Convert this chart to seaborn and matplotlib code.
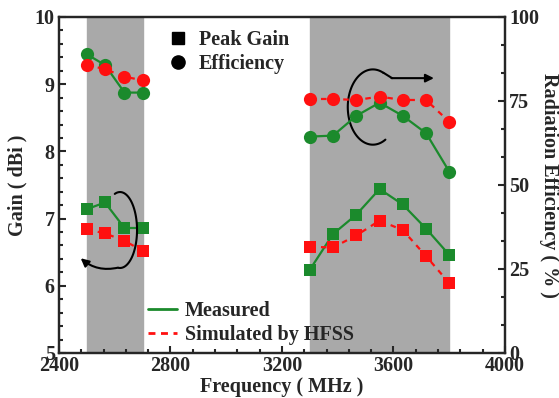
import numpy as np
import pandas as pd
import seaborn as sns
import matplotlib.pyplot as plt
from matplotlib.lines import Line2D
from matplotlib.ticker import MultipleLocator

# frequencies (MHz) for the two bands
freq_low = [2500, 2565, 2635, 2700]
freq_high = [3300, 3383, 3467, 3550, 3633, 3717, 3800]

# peak gain (dBi)
gain_meas_low = [7.14, 7.24, 6.86, 6.86]
gain_sim_low = [6.84, 6.78, 6.67, 6.52]
gain_meas_high = [6.24, 6.77, 7.06, 7.44, 7.21, 6.85, 6.46]
gain_sim_high = [6.58, 6.57, 6.75, 6.97, 6.83, 6.44, 6.04]

# radiation efficiency (%)
eff_meas_low = [88.9, 85.7, 77.5, 77.5]
eff_sim_low = [85.7, 84.5, 82.2, 81.2]
eff_meas_high = [64.4, 64.7, 70.6, 74.5, 70.6, 65.4, 54.0]
eff_sim_high = [75.6, 75.6, 75.3, 76.3, 75.3, 75.3, 68.8]

GREEN = "#1b8a2c"
RED = "#ff1010"


def draw(ax, x, y, color, dashed, marker, ms):
    sns.lineplot(x=x, y=y, ax=ax, color=color, marker=marker, markersize=ms,
                 markeredgewidth=0, linewidth=1.6, sort=False,
                 linestyle=(0, (2.5, 2.5)) if dashed else "-")


def arc(ax, cx, cy, w, h, t1, t2):
    t = np.radians(np.linspace(t1, t2, 120))
    ax.plot(cx + w / 2 * np.cos(t), cy + h / 2 * np.sin(t),
            color="black", lw=1.5)


def main():
    sns.set_style("ticks")
    plt.rcParams["font.family"] = ["Liberation Serif", "DejaVu Serif"]
    plt.rcParams["font.weight"] = "bold"
    plt.rcParams["axes.labelweight"] = "bold"

    fig = plt.figure(figsize=(5.59, 3.98), dpi=100)
    ax = fig.add_axes([0.1055, 0.1131, 0.7979, 0.8442])
    ax2 = ax.twinx()

    ax.axvspan(2500, 2700, color="#a9a9a9", zorder=0)
    ax.axvspan(3300, 3800, color="#a9a9a9", zorder=0)

    for f, gm, gs in [(freq_low, gain_meas_low, gain_sim_low),
                      (freq_high, gain_meas_high, gain_sim_high)]:
        draw(ax, f, gm, GREEN, False, "s", 8)
        draw(ax, f, gs, RED, True, "s", 8)
    for f, em, es in [(freq_low, eff_meas_low, eff_sim_low),
                      (freq_high, eff_meas_high, eff_sim_high)]:
        draw(ax2, f, em, GREEN, False, "o", 9.5)
        draw(ax2, f, es, RED, True, "o", 9.5)

    ax.set_xlim(2400, 4000)
    ax.set_ylim(5, 10)
    ax2.set_ylim(0, 100)
    ax.xaxis.set_major_locator(MultipleLocator(400))
    ax.xaxis.set_minor_locator(MultipleLocator(80))
    ax.yaxis.set_major_locator(MultipleLocator(1))
    ax.yaxis.set_minor_locator(MultipleLocator(0.2))
    ax2.yaxis.set_major_locator(MultipleLocator(25))
    ax2.yaxis.set_minor_locator(MultipleLocator(25 / 3))

    for a in (ax, ax2):
        a.tick_params(which="both", direction="in", width=1.5, labelsize=14.5)
        a.tick_params(which="major", length=5, pad=3)
        a.tick_params(which="minor", length=3)
        for s in a.spines.values():
            s.set_linewidth(1.6)
    ax.tick_params(right=False, top=False, which="both")
    ax.tick_params(axis="x", pad=2)

    ax.set_xlabel("Frequency ( MHz )", fontsize=14.5, labelpad=1)
    ax.set_ylabel("Gain ( dBi )", fontsize=14.5, labelpad=5)
    ax2.set_ylabel("Radiation Efficiency ( % )", fontsize=14.5, rotation=-90,
                   labelpad=14)

    # curved arrows marking which axis each group belongs to
    arc(ax, 2619, 6.83, 122, 1.13, -95, 108)
    ax.annotate("", xy=(2478, 6.41), xytext=(2612, 6.27),
                arrowprops=dict(arrowstyle="-|>", color="black", lw=1.5,
                                mutation_scale=12, shrinkA=0, shrinkB=0,
                                connectionstyle="arc3,rad=-0.25"))
    arc(ax, 3526, 8.66, 180, 1.12, 65, 300)
    ax.plot([3564, 3595], [9.17, 9.09], color="black", lw=1.5)
    ax.annotate("", xy=(3745, 9.09), xytext=(3593, 9.09),
                arrowprops=dict(arrowstyle="-|>", color="black", lw=1.5,
                                mutation_scale=12, shrinkA=0, shrinkB=0))

    h1 = [Line2D([], [], marker="s", color="black", ls="none", markersize=8),
          Line2D([], [], marker="o", color="black", ls="none", markersize=9.5)]
    leg1 = ax.legend(h1, ["Peak Gain", "Efficiency"], loc="upper left",
                     bbox_to_anchor=(0.18, 1.015), frameon=False, fontsize=14.5,
                     handletextpad=0.05, labelspacing=0.2)
    ax.add_artist(leg1)
    h2 = [Line2D([], [], color=GREEN, lw=2),
          Line2D([], [], color=RED, lw=2, ls=(0, (2.5, 2)))]
    ax.legend(h2, ["Measured", "Simulated by HFSS"], loc="lower left",
              bbox_to_anchor=(0.16, -0.03), frameon=False, fontsize=14.5,
              handlelength=1.4, handletextpad=0.4, labelspacing=0.2)

    fig.savefig("out.png", dpi=100)


if __name__ == "__main__":
    main()
